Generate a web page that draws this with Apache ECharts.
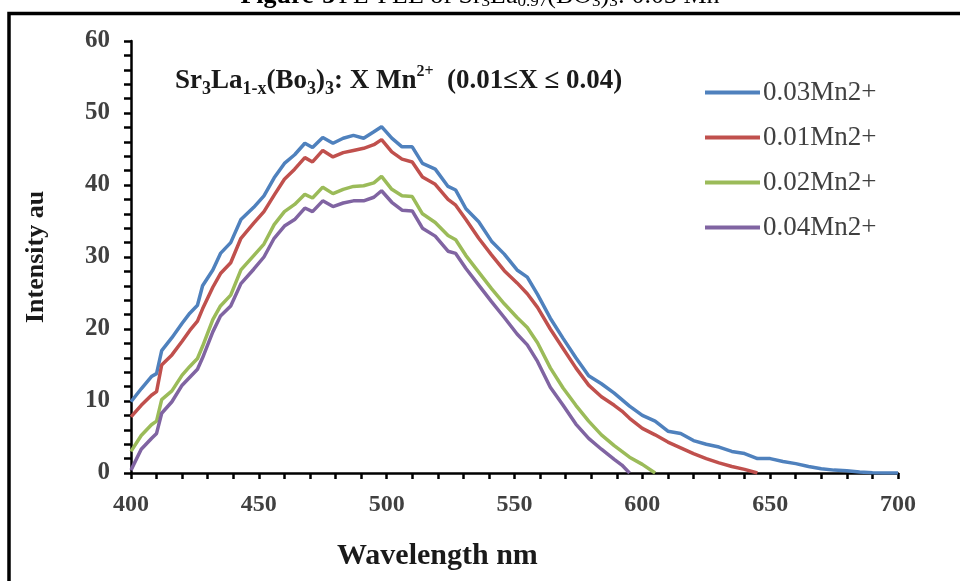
<!DOCTYPE html>
<html>
<head>
<meta charset="utf-8">
<script src="https://cdn.jsdelivr.net/npm/echarts@6/dist/echarts.min.js"></script>
<style>
  html, body { margin: 0; padding: 0; background: #fff; }
  #chart { width: 960px; height: 581px; }
</style>
</head>
<body>
<div id="chart"></div>
<script>
/* ---------- data ---------- */
var wavelength = [400, 404, 408, 410, 412, 416, 420, 423, 426, 428, 432, 435, 439, 443, 448, 452, 456, 460, 464, 468,
  471, 475, 479, 483, 487, 491, 495, 498, 502, 506, 510, 514, 519, 524, 527, 531, 536, 541, 546, 551,
  555, 559, 564, 569, 574, 579, 584, 589, 592, 595, 600, 605, 610, 615, 620, 625, 630, 635, 640, 645,
  650, 655, 660, 665, 670, 675, 680, 685, 690, 695, 700];

var seriesNames = ["0.03Mn2+", "0.01Mn2+", "0.02Mn2+", "0.04Mn2+"];

var mn003 = [9.9, 11.7, 13.4, 13.8, 17.0, 18.8, 20.8, 22.2, 23.3, 26.0, 28.2, 30.5, 32.0, 35.2, 36.9, 38.5, 41.0, 43.0, 44.2, 45.8,
  45.2, 46.6, 45.8, 46.5, 46.9, 46.5, 47.4, 48.1, 46.5, 45.3, 45.3, 43.0, 42.2, 39.8, 39.3, 36.7, 34.9, 32.2, 30.4, 28.2,
  27.2, 24.8, 21.5, 18.7, 16.0, 13.5, 12.4, 11.1, 10.2, 9.3, 8.0, 7.2, 5.8, 5.5, 4.5, 4.0, 3.6, 3.0, 2.7, 2.0,
  2.0, 1.6, 1.3, 0.9, 0.6, 0.4, 0.3, 0.15, 0.05, 0.0, 0.0];

var mn001 = [7.8, 9.4, 10.8, 11.3, 15.0, 16.4, 18.3, 19.8, 21.1, 22.8, 25.8, 27.7, 29.2, 32.6, 34.7, 36.3, 38.6, 40.8, 42.2, 43.8,
  43.2, 44.8, 43.9, 44.5, 44.8, 45.1, 45.6, 46.3, 44.6, 43.6, 43.2, 41.1, 40.1, 38.0, 37.2, 35.2, 32.6, 30.3, 28.1, 26.4,
  24.9, 23.0, 20.0, 17.3, 14.6, 12.2, 10.6, 9.4, 8.6, 7.6, 6.2, 5.3, 4.3, 3.5, 2.7, 2.0, 1.4, 0.9, 0.5, 0.0];

var mn002 = [3.0, 5.2, 6.7, 7.2, 10.2, 11.4, 13.6, 14.8, 15.9, 17.6, 21.3, 23.2, 24.7, 28.2, 30.2, 31.8, 34.5, 36.3, 37.3, 38.7,
  38.2, 39.7, 38.8, 39.4, 39.8, 39.9, 40.3, 41.2, 39.4, 38.5, 38.4, 36.0, 34.8, 33.0, 32.4, 30.2, 27.9, 25.6, 23.5, 21.6,
  20.2, 18.1, 14.6, 11.8, 9.4, 7.2, 5.3, 3.8, 3.0, 2.2, 1.2, 0.0];

var mn004 = [0.4, 3.3, 4.8, 5.5, 8.3, 9.9, 12.2, 13.3, 14.4, 16.0, 19.6, 21.8, 23.2, 26.3, 28.3, 30.0, 32.6, 34.3, 35.2, 36.8,
  36.3, 37.8, 37.0, 37.5, 37.8, 37.8, 38.3, 39.2, 37.6, 36.5, 36.4, 34.0, 32.9, 30.8, 30.5, 28.4, 26.1, 23.8, 21.6, 19.3,
  17.8, 15.5, 11.9, 9.4, 6.8, 4.8, 3.3, 1.9, 1.1, 0.0];

var colors = ["#4F81BD", "#C0504D", "#9BBB59", "#8064A2"];

/* ---------- chart ---------- */
var serif = "'Liberation Serif', 'Times New Roman', serif";

function pairs(vals) {
  var out = [];
  for (var i = 0; i < vals.length; i++) out.push([wavelength[i], vals[i]]);
  return out;
}

var allVals = [mn003, mn001, mn002, mn004];
var series = seriesNames.map(function(name, k) {
  return {
    name: name,
    type: "line",
    symbol: "none",
    data: pairs(allVals[k]),
    lineStyle: { color: colors[k], width: 3.5 },
    itemStyle: { color: colors[k] }
  };
});

var chart = echarts.init(document.getElementById("chart"));
chart.setOption({
  animation: false,
  backgroundColor: "#fff",
  grid: { left: 131, right: 62, top: 41, bottom: 108 },
  title: {
    left: 170, top: 59,
    text: "{b|Sr}{s|3}{b|La}{s|1-x}{b|(Bo}{s|3}{b|)}{s|3}{b|: X Mn}{p|2+}{b|  (0.01≤X ≤ 0.04)}",
    textStyle: {
      rich: {
        b: { fontFamily: serif, fontWeight: "bold", fontSize: 27, color: "#1a1a1a", lineHeight: 34 },
        s: { fontFamily: serif, fontWeight: "bold", fontSize: 18, color: "#1a1a1a", lineHeight: 18, verticalAlign: "bottom" },
        p: { fontFamily: serif, fontWeight: "bold", fontSize: 16, color: "#1a1a1a", lineHeight: 16, verticalAlign: "top" }
      }
    }
  },
  legend: {
    orient: "vertical",
    left: 705, top: 79, padding: 0,
    icon: "rect",
    itemWidth: 55, itemHeight: 4, itemGap: 18,
    textStyle: { fontFamily: serif, fontSize: 27, color: "#404040", lineHeight: 27, padding: [0, 0, 0, -2] },
    data: seriesNames
  },
  xAxis: {
    type: "value", min: 400, max: 700, interval: 50,
    axisLine: { onZero: false, lineStyle: { color: "#000", width: 2.5 } },
    axisTick: { length: 6, lineStyle: { color: "#000", width: 2.5 } },
    minorTick: { show: true, splitNumber: 5, length: 6, lineStyle: { color: "#000", width: 2.5 } },
    splitLine: { show: false },
    axisLabel: { fontFamily: serif, fontWeight: "bold", fontSize: 24, color: "#404040", margin: 20 }
  },
  yAxis: {
    type: "value", min: 0, max: 60, interval: 10,
    name: "Intensity au", nameLocation: "middle", nameGap: 82, nameRotate: 90,
    nameTextStyle: { fontFamily: serif, fontWeight: "bold", fontSize: 26, color: "#1a1a1a" },
    axisLine: { show: true, lineStyle: { color: "#000", width: 2.5 } },
    axisTick: { show: true, length: 7, lineStyle: { color: "#000", width: 2.5 } },
    minorTick: { show: true, splitNumber: 5, length: 7, lineStyle: { color: "#000", width: 2.5 } },
    splitLine: { show: false },
    axisLabel: { fontFamily: serif, fontWeight: "bold", fontSize: 25, color: "#404040", margin: 21 }
  },
  graphic: [
    { type: "rect", shape: { x: 9, y: 13.5, width: 1200, height: 1200 },
      style: { fill: "none", stroke: "#000", lineWidth: 3.5 }, silent: true },
    { type: "text", left: 337, top: 541,
      style: { text: "Wavelength nm", fontFamily: serif, fontWeight: "bold", fontSize: 30, fill: "#1a1a1a" } },
    { type: "text", x: 480, y: 10,
      style: {
        text: "{b|Figure-3} {n|PL-PLE of Sr}{s|3}{n|La}{s|0.97}{n|(BO}{s|3}{n|)}{s|3}{n|: 0.03 Mn}",
        align: "center", verticalAlign: "bottom",
        rich: {
          b: { fontFamily: serif, fontWeight: "bold", fontSize: 26, fill: "#000", lineHeight: 28 },
          n: { fontFamily: serif, fontSize: 26, fill: "#000", lineHeight: 28 },
          s: { fontFamily: serif, fontSize: 17, fill: "#000", lineHeight: 17, verticalAlign: "bottom" }
        }
      } }
  ],
  series: series
});
</script>
</body>
</html>
